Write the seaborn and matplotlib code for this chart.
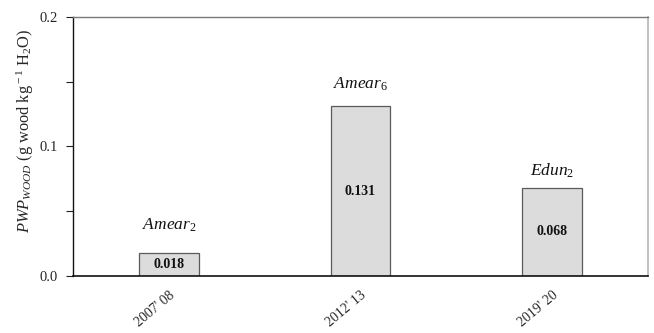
import matplotlib
matplotlib.use("Agg")
import matplotlib.pyplot as plt
import seaborn as sns
import pandas as pd

# Data
periods = ["2007' 08", "2012' 13", "2019' 20"]
pwp_wood = [0.018, 0.131, 0.068]
species = ["Amear", "Amear", "Edun"]
species_sub = ["2", "6", "2"]

sns.set_style("ticks")
plt.rcParams["font.family"] = ["Liberation Serif", "DejaVu Serif"]
plt.rcParams["mathtext.fontset"] = "custom"
plt.rcParams["mathtext.rm"] = "Liberation Serif"
plt.rcParams["mathtext.it"] = "Liberation Serif:italic"
plt.rcParams["mathtext.bf"] = "Liberation Serif:bold"

df = pd.DataFrame({"period": periods, "pwp": pwp_wood})

fig = plt.figure(figsize=(6.54, 3.33), dpi=100)
ax = fig.add_axes([0.1116, 0.1712, 0.8792, 0.7778])

sns.barplot(data=df, x="period", y="pwp", ax=ax, color="#dcdcdc",
            edgecolor="#5a5a5a", linewidth=0.9, width=0.3125, saturation=1)

ax.set_xlim(-0.5, 2.5)
ax.set_ylim(0, 0.2)
ax.set_yticks([0.0, 0.1, 0.2])
ax.set_yticklabels(["0.0", "0.1", "0.2"])
ax.set_yticks([0.05, 0.15], minor=True)
ax.tick_params(axis="y", which="both", direction="out", length=5, width=0.8,
               labelsize=10.5, color="#222222", pad=6)
ax.tick_params(axis="x", length=0, labelsize=10, pad=9)
plt.setp(ax.get_xticklabels(), rotation=40, ha="right", rotation_mode="anchor")

ax.set_xlabel("")
ax.set_ylabel(r"$PWP_{WOOD}$ (g wood kg$^{\rm -1}$ H$_{\rm 2}$O)", fontsize=11.8)
ax.yaxis.set_label_coords(-0.064, 0.56)

for side in ["top", "right", "left", "bottom"]:
    ax.spines[side].set_visible(True)
ax.spines["left"].set_color("#111111")
ax.spines["bottom"].set_color("#111111")
ax.spines["left"].set_linewidth(1.0)
ax.spines["bottom"].set_linewidth(1.2)
ax.spines["top"].set_color("#7a7a7a")
ax.spines["right"].set_color("#b5b5b5")
ax.spines["top"].set_linewidth(1.0)
ax.spines["right"].set_linewidth(1.2)

# value labels inside bars, species labels above
offsets_pt = [20, 16, 12]
for i, (v, sp, sub) in enumerate(zip(pwp_wood, species, species_sub)):
    ax.text(i, v / 2, f"{v:.3f}", ha="center", va="center",
            fontsize=10, fontweight="bold", color="#111111")
    ax.annotate(rf"$\mathit{{{sp}}}_{{\mathit{{{sub}}}}}$", xy=(i, v),
                xytext=(0, offsets_pt[i]), textcoords="offset points",
                ha="center", va="center", fontsize=12.5, color="#111111")

fig.savefig("out.png", dpi=100)
